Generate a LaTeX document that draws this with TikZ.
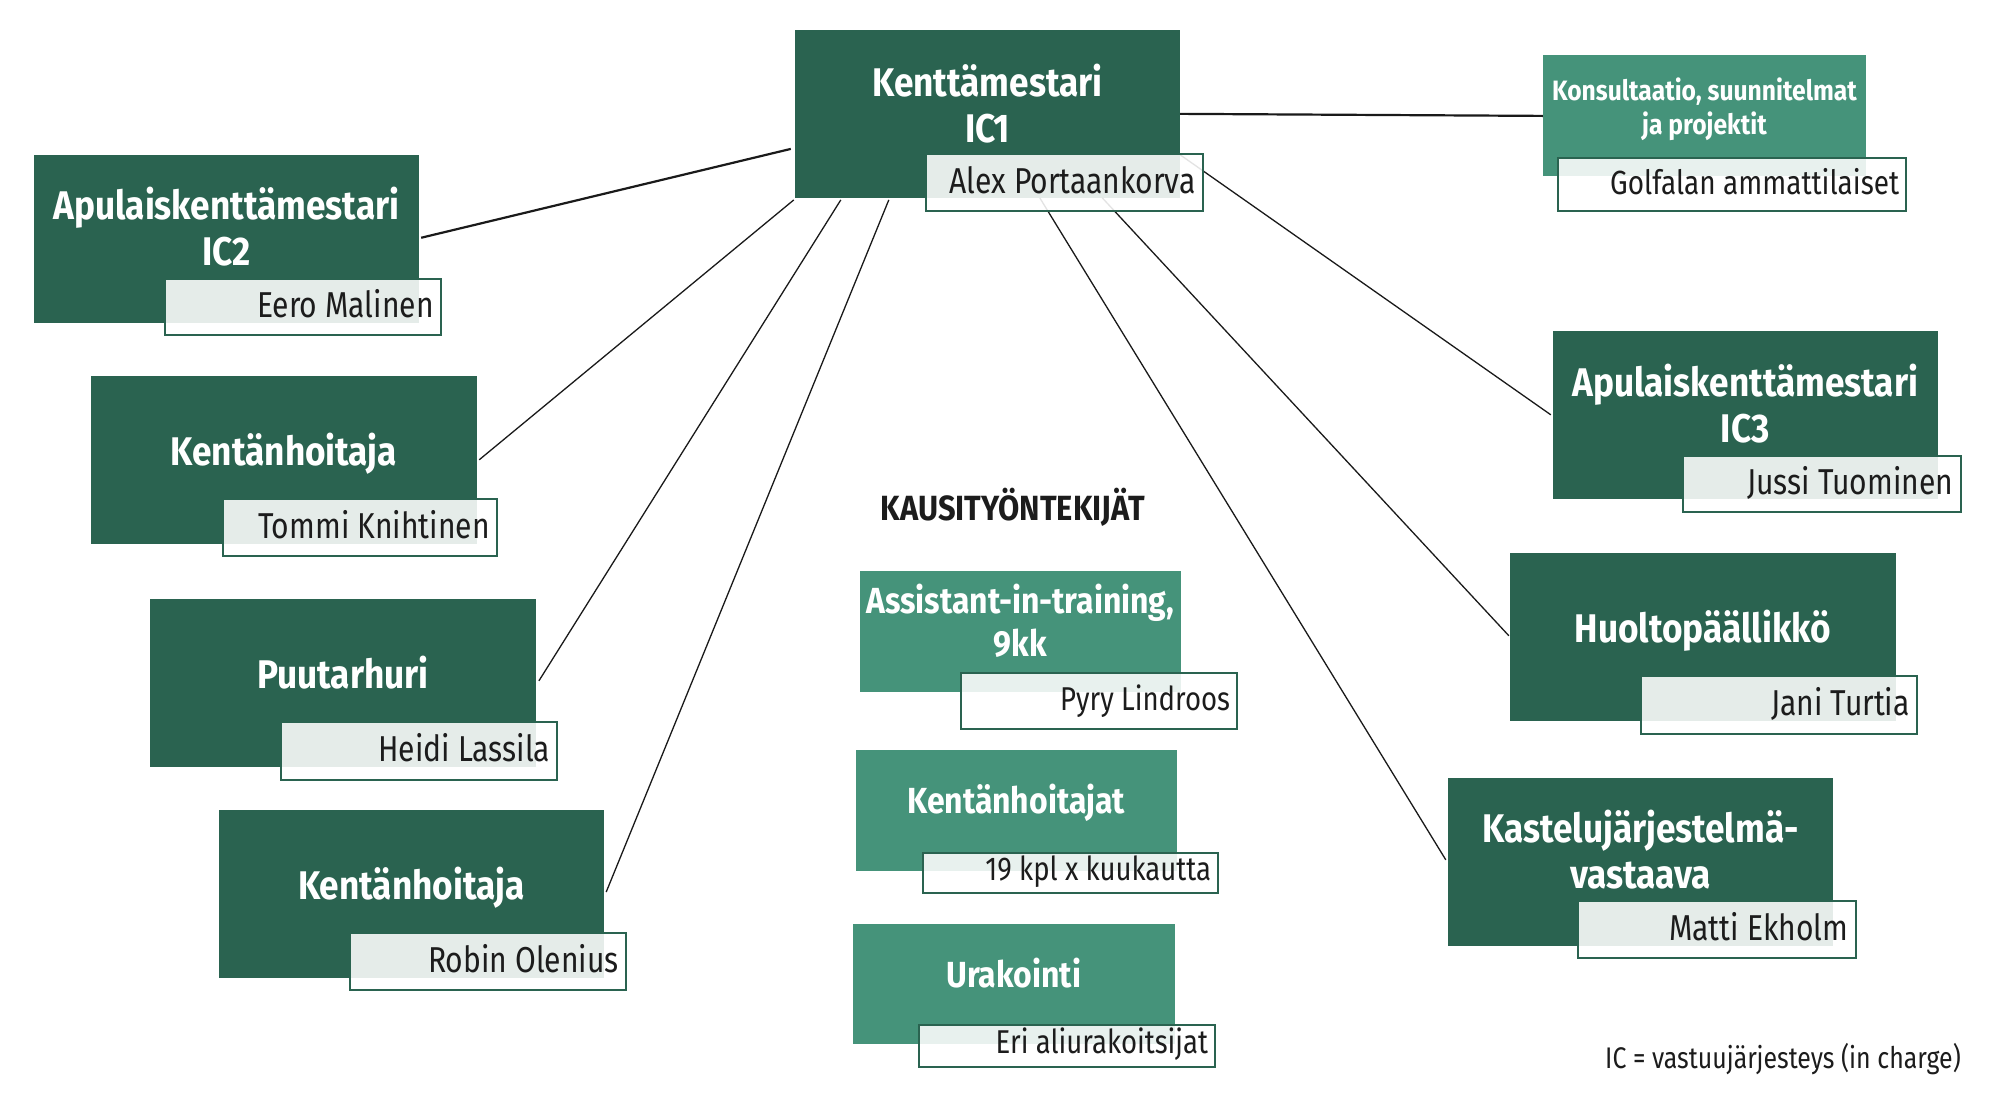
\documentclass[tikz,border=0pt]{standalone}
\usepackage{fontspec}
\setmainfont{Fira Sans}[FakeStretch=0.88]
\newfontfamily\namefam{Fira Sans}[FakeStretch=0.835]
\usetikzlibrary{fit,calc}
\definecolor{dkgreen}{HTML}{2A6350}
\definecolor{mdgreen}{HTML}{45937A}
\definecolor{txtblack}{HTML}{1C1C1C}
\definecolor{lnblack}{HTML}{1A1A1A}
\newcommand\tl[1]{\begin{tabular}[t]{@{}c@{}}#1\end{tabular}}
\tikzset{
  darkbox/.style={fill=dkgreen, inner sep=0pt, draw=none},
  medbox/.style={fill=mdgreen, inner sep=0pt, draw=none},
  namebox/.style={fill=white, fill opacity=0.88, draw=dkgreen, draw opacity=1, line width=2pt, inner sep=0pt},
  bigtitle/.style={text=white, inner sep=0pt, anchor=base, font=\bfseries\fontsize{40}{46}\selectfont},
  midtitle/.style={text=white, inner sep=0pt, anchor=base, font=\bfseries\fontsize{36.3}{42.2}\selectfont},
  smalltitle/.style={text=white, inner sep=0pt, anchor=base, font=\bfseries\fontsize{28}{33.3}\selectfont},
  nametxt/.style={text=txtblack, inner sep=0pt, anchor=base east, font=\namefam\fontsize{36}{40}\selectfont},
  midname/.style={text=txtblack, inner sep=0pt, anchor=base east, font=\namefam\fontsize{33}{38}\selectfont},
  link/.style={draw=lnblack, line width=1.3pt},
  boldlink/.style={draw=lnblack, line width=2.2pt},
}
\begin{document}
\begin{tikzpicture}[x=1pt,y=-1pt]
\useasboundingbox (0,0) rectangle (1998,1106);
\fill[white] (0,0) rectangle (1998,1106);

% boxes
\node[darkbox, fit={(795,30) (1180,197.7)}] (km) {};
\node[darkbox, fit={(34,155) (419,322.5)}] (ic2) {};
\node[darkbox, fit={(91,376) (477,543.6)}] (kh1) {};
\node[darkbox, fit={(150,599) (535.7,766.7)}] (pu) {};
\node[darkbox, fit={(218.8,810) (604,978)}] (kh2) {};
\node[medbox, fit={(1543,55.4) (1866,176.4)}] (ko) {};
\node[darkbox, fit={(1553,331) (1937.6,498.6)}] (ic3) {};
\node[darkbox, fit={(1510,552.8) (1896,720.6)}] (hu) {};
\node[darkbox, fit={(1448,778) (1833,945.7)}] (ka) {};
\node[medbox, fit={(860,570.8) (1180.7,691.5)}] (as) {};
\node[medbox, fit={(855.7,749.6) (1176.7,871)}] (kt) {};
\node[medbox, fit={(852.7,924) (1174.7,1043.8)}] (ur) {};

% connectors
\draw[boldlink] ($(km.south west)+(-4,-49)$) -- ($(ic2.east)+(2,-1)$);
\draw[link] ($(km.south west)+(-1,2)$) -- ($(kh1.east)+(2,0)$);
\draw[link] ($(km.south west)+(46,2)$) -- ($(pu.east)+(3,-2)$);
\draw[link] ($(km.south west)+(94,2)$) -- ($(kh2.east)+(2,-2)$);
\draw[boldlink] (km.east) -- (ko.west);
\draw[link] ($(km.east)+(0,41)$) -- ($(ic3.west)+(-2,0)$);
\draw[link] ($(km.south west)+(307.5,0)$) -- ($(hu.west)+(-1,-1)$);
\draw[link] ($(km.south west)+(245,0)$) -- ($(ka.west)+(-2,-2)$);

% titles
\node[bigtitle] (kmt) at (987.5,96.7) {\tl{Kenttämestari\\IC1}};
\node[bigtitle] (ic2t) at (226.5,219.6) {\tl{Apulaiskenttämestari\\IC2}};
\node[bigtitle] (kh1t) at (284,465.4) {Kentänhoitaja};
\node[bigtitle] (put) at (342.9,688.3) {Puutarhuri};
\node[bigtitle] (kh2t) at (411.4,899.3) {Kentänhoitaja};
\node[smalltitle] (kot) at (1704.5,100.7) {\tl{Konsultaatio, suunnitelmat\\ja projektit}};
\node[bigtitle] (ic3t) at (1745.3,396.4) {\tl{Apulaiskenttämestari\\IC3}};
\node[bigtitle] (hut) at (1703,642.9) {Huoltopäällikkö};
\node[bigtitle] (kat) at (1640.5,842.6) {\tl{Kastelujärjestelmä-\\vastaava}};
\node[midtitle] (ast) at (1020.3,613.8) {\tl{Assistant-in-training,\\9kk}};
\node[midtitle] (ktt) at (1016.2,813) {Kentänhoitajat};
\node[midtitle] (urt) at (1013.7,987) {Urakointi};

% name labels
\node[namebox, fit={(925.7,154.3) (1202.7,211.3)}] (kmn) {};
\node[namebox, fit={(164.5,278.6) (441,335)}] (ic2n) {};
\node[namebox, fit={(222.6,499) (497,556)}] (kh1n) {};
\node[namebox, fit={(280.6,722.3) (557.4,780)}] (pun) {};
\node[namebox, fit={(349.5,933) (626,990.4)}] (kh2n) {};
\node[namebox, fit={(1557.6,157.5) (1906.4,211.4)}] (kon) {};
\node[namebox, fit={(1683,455.7) (1960.5,512)}] (ic3n) {};
\node[namebox, fit={(1641,676) (1917,734)}] (hun) {};
\node[namebox, fit={(1578,901.4) (1855.5,958)}] (kan) {};
\node[namebox, fit={(960.7,673) (1237.3,729.2)}] (asn) {};
\node[namebox, fit={(922.7,853) (1218.3,892.7)}] (ktn) {};
\node[namebox, fit={(919.3,1025.4) (1215.3,1067)}] (urn) {};

\node[nametxt] at ($(kmn.east)+(-8,10.5)$) {Alex Portaankorva};
\node[nametxt] at ($(ic2n.east)+(-8,10.5)$) {Eero Malinen};
\node[nametxt] at ($(kh1n.east)+(-8,10.5)$) {Tommi Knihtinen};
\node[nametxt] at ($(pun.east)+(-8,10.5)$) {Heidi Lassila};
\node[nametxt] at ($(kh2n.east)+(-8,10.5)$) {Robin Olenius};
\node[nametxt, font=\namefam\fontsize{33.5}{38}\selectfont] at ($(kon.east)+(-8,10.5)$) {Golfalan ammattilaiset};
\node[nametxt] at ($(ic3n.east)+(-8,10.5)$) {Jussi Tuominen};
\node[nametxt] at ($(hun.east)+(-8,10.5)$) {Jani Turtia};
\node[nametxt] at ($(kan.east)+(-8,10.5)$) {Matti Ekholm};
\node[midname] at ($(asn.east)+(-8,9.7)$) {Pyry Lindroos};
\node[midname] at ($(ktn.east)+(-8,8)$) {19 kpl x kuukautta};
\node[midname] at ($(urn.east)+(-8,7.6)$) {Eri aliurakoitsijat};

% heading and footnote
\node[text=txtblack, inner sep=0pt, anchor=base west, font=\bfseries\fontsize{35}{40}\selectfont] (head) at (880.7,520.4) {KAUSITYÖNTEKIJÄT};
\node[text=txtblack, inner sep=0pt, anchor=base east, font=\namefam\fontsize{29.8}{34}\selectfont] (foot) at (1961,1068.4) {IC = vastuujärjesteys (in charge)};
\end{tikzpicture}
\end{document}
